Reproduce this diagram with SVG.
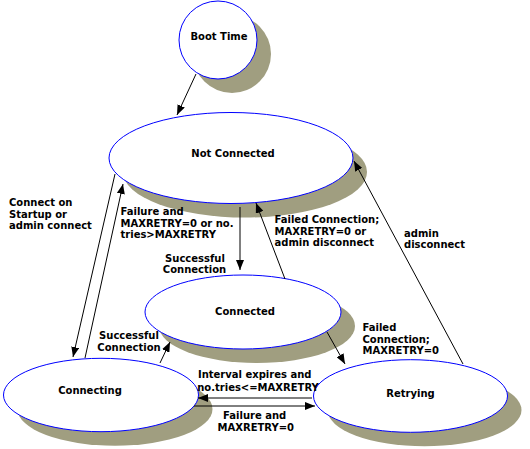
<svg xmlns="http://www.w3.org/2000/svg" width="530" height="449" viewBox="0 0 530 449">
<style>
.sh{fill:#a09e80;stroke:none}
.nd{fill:#ffffff;stroke:#0000ff;stroke-width:1}
.t{font-family:"DejaVu Sans","Liberation Sans",sans-serif;font-weight:bold;font-size:10px;fill:#000}
.m{text-anchor:middle}
.c{stroke:#000;stroke-width:1;fill:none;marker-end:url(#ah)}
</style>
<defs>
<marker id="ah" markerUnits="userSpaceOnUse" markerWidth="11" markerHeight="8" refX="10" refY="4" orient="auto">
<path d="M0,0 L10,4 L0,8 z" fill="#000"/>
</marker>
</defs>
<rect width="530" height="449" fill="#fff"/>
<g id="shadows">
<circle class="sh" cx="232" cy="54" r="39"/>
<ellipse class="sh" cx="245" cy="172" rx="122" ry="45.5"/>
<ellipse class="sh" cx="257" cy="326" rx="98" ry="37"/>
<ellipse class="sh" cx="115" cy="409" rx="97.5" ry="36.7"/>
<ellipse class="sh" cx="424.5" cy="410" rx="97" ry="36.3"/>
</g>
<g id="boot-time">
<circle class="nd" cx="218" cy="40" r="39"/>
<text class="t m" x="219" y="40">Boot Time</text>
</g>
<g id="not-connected">
<ellipse class="nd" cx="231" cy="158" rx="122" ry="45.5"/>
<text class="t m" x="233" y="156.5">Not Connected</text>
</g>
<g id="connected">
<ellipse class="nd" cx="243" cy="312" rx="98" ry="37"/>
<text class="t m" x="245" y="315">Connected</text>
</g>
<g id="connecting">
<ellipse class="nd" cx="101" cy="395" rx="97.5" ry="36.7"/>
<text class="t m" x="90" y="393.5">Connecting</text>
</g>
<g id="retrying">
<ellipse class="nd" cx="410.5" cy="396" rx="97" ry="36.3"/>
<text class="t m" x="410.5" y="396.5">Retrying</text>
</g>
<g id="connectors">
<line class="c" x1="196" y1="74" x2="177" y2="115"/>
<line class="c" x1="115" y1="174" x2="73" y2="357"/>
<line class="c" x1="85" y1="358" x2="123" y2="184"/>
<line class="c" x1="240" y1="207" x2="240" y2="270"/>
<line class="c" x1="285" y1="279" x2="256" y2="203"/>
<line class="c" x1="463" y1="364" x2="354" y2="161"/>
<line class="c" x1="327" y1="332" x2="345" y2="364"/>
<line class="c" x1="160" y1="363" x2="170" y2="342"/>
<line class="c" x1="312" y1="398" x2="198" y2="398"/>
<line class="c" x1="194" y1="406" x2="315" y2="406"/>
</g>
<g id="labels">
<text class="t" x="9" y="206">Connect on</text>
<text class="t" x="9" y="217.5">Startup or</text>
<text class="t" x="9" y="228.5">admin connect</text>
<text class="t" x="120.5" y="215">Failure and</text>
<text class="t" x="120.5" y="226.7">MAXRETRY=0 or no.</text>
<text class="t" x="120.5" y="238.3">tries&gt;MAXRETRY</text>
<text class="t m" x="195" y="261.7">Successful</text>
<text class="t m" x="194.5" y="272.7">Connection</text>
<text class="t" x="274.5" y="223.3">Failed Connection;</text>
<text class="t" x="274.5" y="235">MAXRETRY=0 or</text>
<text class="t" x="274.5" y="246">admin disconnect</text>
<text class="t" x="404" y="237.3">admin</text>
<text class="t" x="404" y="248.3">disconnect</text>
<text class="t" x="362.5" y="331">Failed</text>
<text class="t" x="362.5" y="342.7">Connection;</text>
<text class="t" x="362.5" y="354.3">MAXRETRY=0</text>
<text class="t m" x="129" y="339.3">Successful</text>
<text class="t m" x="129" y="350.7">Connection</text>
<text class="t m" x="254.7" y="378.3">Interval expires and</text>
<text class="t m" x="258" y="390.7">no.tries&lt;=MAXRETRY</text>
<text class="t m" x="254.7" y="419">Failure and</text>
<text class="t m" x="255.8" y="430.7">MAXRETRY=0</text>
</g>
</svg>
